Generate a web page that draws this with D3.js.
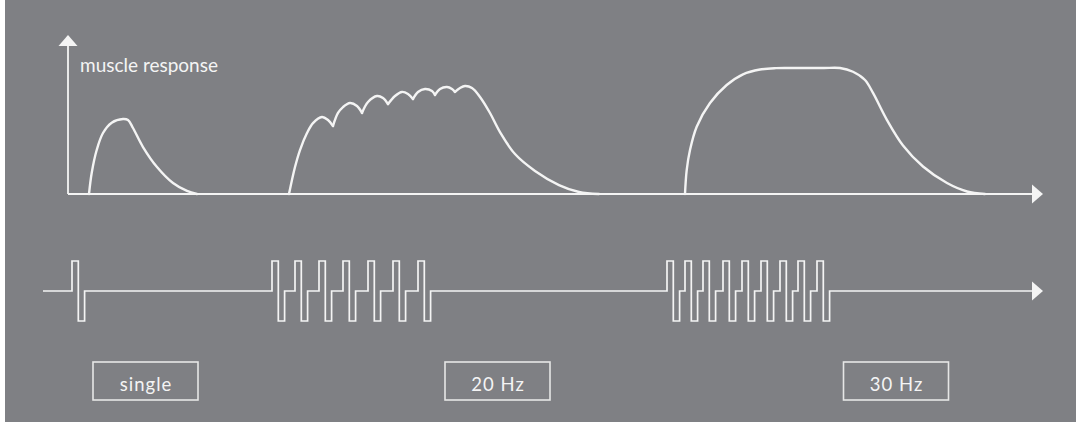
<!DOCTYPE html>
<html><head><meta charset="utf-8">
<script src="https://cdn.jsdelivr.net/npm/d3@7"></script>
<style>html,body{margin:0;padding:0;background:#fff;} svg{display:block}</style>
</head><body><svg id="chart" width="1076" height="429"></svg>
<script>
// ---- data (time in arbitrary units, response in % of tetanic maximum) ----
const yAxisLabel = "muscle response";
const labels = ["single", "20 Hz", "30 Hz"];
const labelTimes = [77.5, 429.5, 828];

const singleTwitch = [[21,0],[23.7,16.7],[28.7,34.9],[35,48.4],[43.7,56.6],[55,59.5],[60,58.7],[65,52.4],[75,37.3],[89,21.4],[105,8.7],[119,2.4],[129,0]];

const summationHumps = [
  [[221,0],[227,21.4],[232,34.9],[239,48.4],[245,56.3],[254,61.1],[260,58.7],[265,54]],
  [[265,54],[270,64.3],[275,69],[282,72.2],[289,69.8],[294,64.3]],
  [[294,64.3],[300,73],[309,77.8],[315,76.2],[320,71.4]],
  [[320,71.4],[327,77.8],[334,81],[340,79.4],[345,75.4]],
  [[345,75.4],[350,81],[357,83.3],[364,81.7],[367,78.6]],
  [[367,78.6],[372,83.3],[379,84.9],[384,83.3],[387,81]],
  [[387,81],[392,84.1],[397,85.7],[404,84.1],[412,77],[422,64.3],[432,49.2],[447,31.7],[467,18.3],[491,7.1],[511,1.6],[531,0]]
];

const tetanus = [[617,0],[618.7,19],[622,34.9],[628.7,53.4],[642,72.2],[658.7,86.5],[675,95],[692,98.8],[708,99.9],[724,100],[740,100],[756,100],[772,100],[785,97],[797,90.5],[805,80.2],[819,58.7],[835,38.5],[855,21.8],[879,8.7],[899,2],[917,0]];

const singlePulse = [4];
const pulses20Hz = [204, 227, 251, 275, 300, 325, 350];
const pulses30Hz = [599, 617, 635, 655, 674, 693, 712, 730, 749];

// ---- drawing ----
const W = 1076, H = 429;
const svg = d3.select("#chart");
const ink = "#f4f4f4";
const bg = "#7f8084";
const font = "Lato, 'Open Sans', sans-serif";

svg.append("rect").attr("x", 0).attr("y", 0).attr("width", W).attr("height", H).attr("fill", "#ffffff");
svg.append("rect").attr("x", 5).attr("y", 0).attr("width", W - 5).attr("height", 422).attr("fill", bg);

const x = d3.scaleLinear().domain([0, 975]).range([68, 1043]);
const y = d3.scaleLinear().domain([0, 100]).range([194, 68]);
const ys = d3.scaleLinear().domain([-1, 1]).range([321, 261]);

const arrowLen = 11, arrowHalf = 9.5;

// y axis
svg.append("line").attr("x1", x(0)).attr("x2", x(0)).attr("y1", y(0)).attr("y2", 44)
  .attr("stroke", ink).attr("stroke-width", 1.8);
svg.append("path").attr("d", `M${x(0)},${35}L${x(0)-arrowHalf},${46}L${x(0)+arrowHalf},${46}Z`).attr("fill", ink);

// x axis (response)
const tipX = x(975);
svg.append("line").attr("x1", x(0)).attr("x2", tipX - arrowLen + 1).attr("y1", y(0)).attr("y2", y(0))
  .attr("stroke", ink).attr("stroke-width", 1.8);
svg.append("path").attr("d", `M${tipX},${y(0)}L${tipX-arrowLen},${y(0)-arrowHalf}L${tipX-arrowLen},${y(0)+arrowHalf}Z`).attr("fill", ink);

svg.append("text").attr("x", 80).attr("y", 72).text(yAxisLabel)
  .attr("fill", ink).attr("font-family", font).attr("font-size", 19);

// response curves
const line = d3.line().x(d => x(d[0])).y(d => y(d[1])).curve(d3.curveCatmullRom.alpha(0.5));
const curves = [singleTwitch, ...summationHumps, tetanus];
svg.append("g").selectAll("path").data(curves).join("path")
  .attr("d", line).attr("fill", "none").attr("stroke", ink)
  .attr("stroke-width", 2.4).attr("stroke-linejoin", "round").attr("stroke-linecap", "round");

// stimulus trace
const pw = 6.3;
const allPulses = [...singlePulse, ...pulses20Hz, ...pulses30Hz].sort((a, b) => a - b);
const trace = [[-25, 0]];
allPulses.forEach(t => {
  trace.push([t, 0], [t, 1], [t + pw, 1], [t + pw, -1], [t + 2 * pw, -1], [t + 2 * pw, 0]);
});
trace.push([975 - arrowLen + 1, 0]);
const sLine = d3.line().x(d => x(d[0])).y(d => ys(d[1]));
svg.append("path").attr("d", sLine(trace)).attr("fill", "none").attr("stroke", ink)
  .attr("stroke-width", 1.7).attr("stroke-linejoin", "miter");
svg.append("path").attr("d", `M${tipX},${ys(0)}L${tipX-arrowLen},${ys(0)-arrowHalf}L${tipX-arrowLen},${ys(0)+arrowHalf}Z`).attr("fill", ink);

// labels
const boxW = 105, boxH = 38, boxTop = 362;
const lg = svg.append("g").selectAll("g").data(labels).join("g")
  .attr("transform", (d, i) => `translate(${x(labelTimes[i])},0)`);
lg.append("rect").attr("x", -boxW / 2).attr("y", boxTop).attr("width", boxW).attr("height", boxH)
  .attr("fill", "none").attr("stroke", "#e6e6e6").attr("stroke-width", 1.6);
lg.append("text").attr("x", 0.5).attr("y", 391).attr("text-anchor", "middle").text(d => d)
  .attr("fill", ink).attr("font-family", font).attr("font-size", 18.5).attr("letter-spacing", 1);
</script>
</body></html>
